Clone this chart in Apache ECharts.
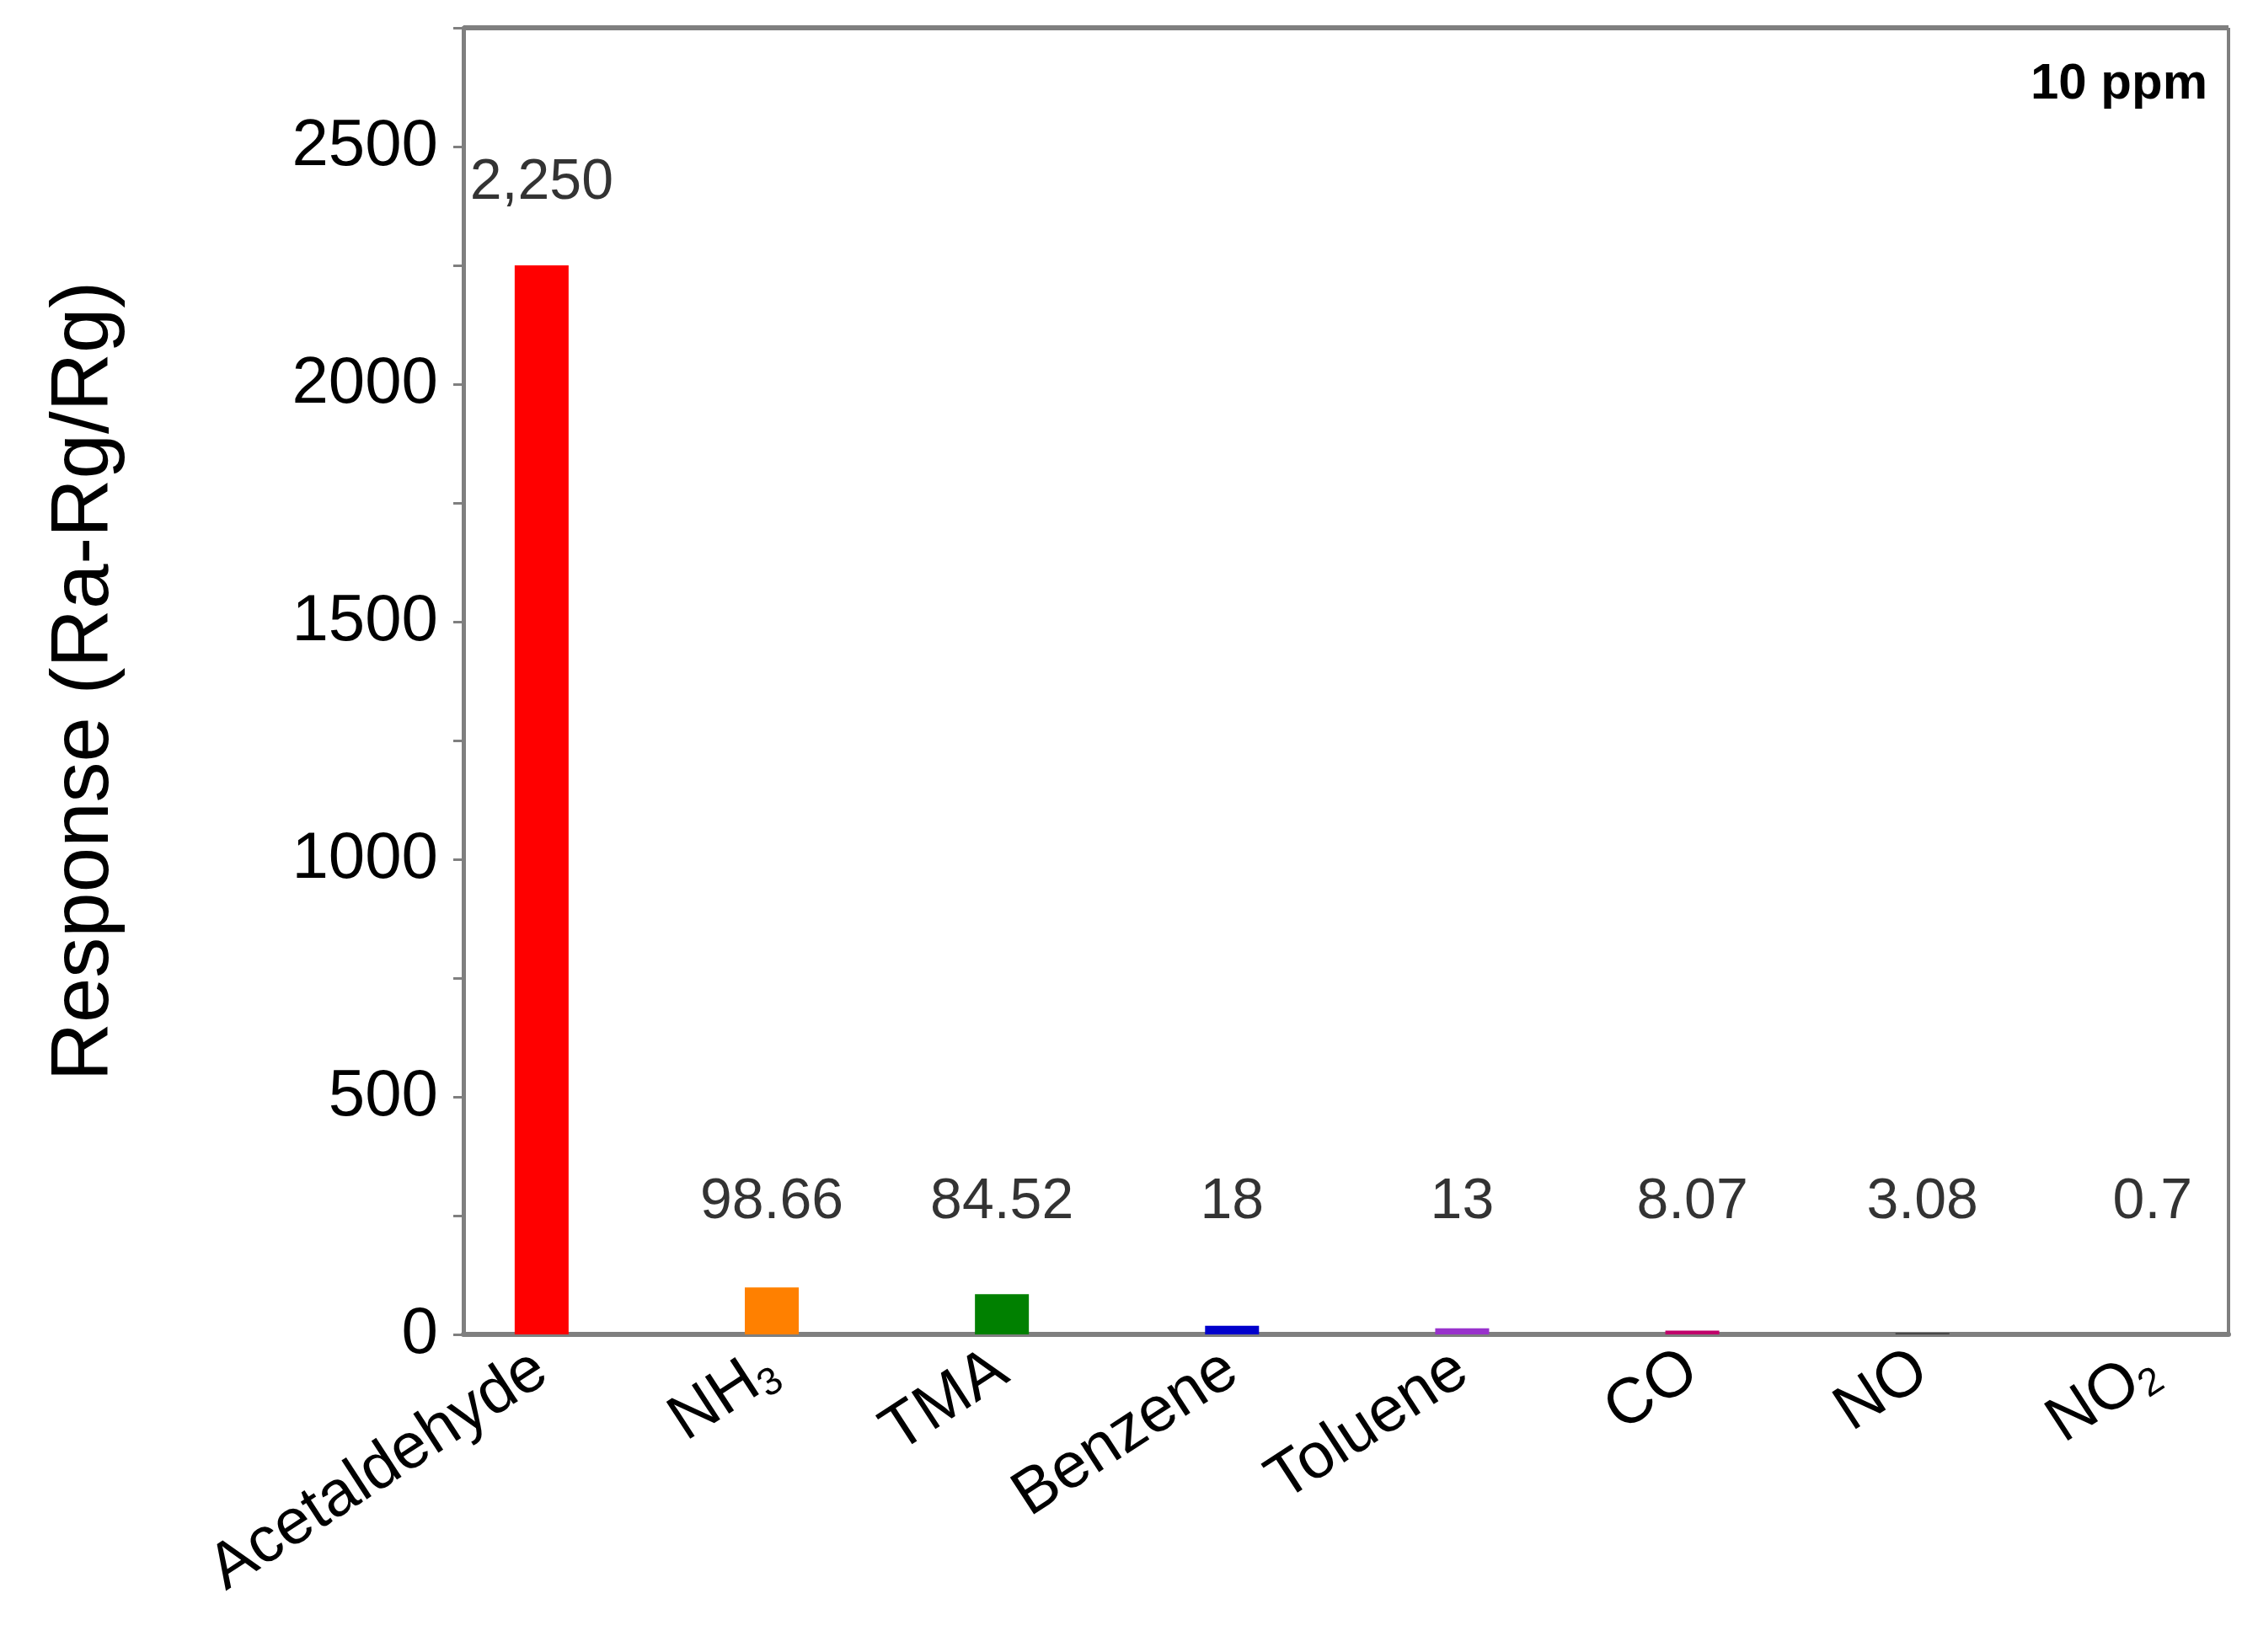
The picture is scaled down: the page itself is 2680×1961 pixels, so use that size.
<!DOCTYPE html>
<html>
<head>
<meta charset="utf-8">
<script src="https://cdn.jsdelivr.net/npm/echarts@6/dist/echarts.min.js"></script>
<style>html,body{margin:0;background:#fff}#chart{width:2680px;height:1961px}</style>
</head>
<body>
<div id="chart"></div>
<script>
// 数据
var gases = ["Acetaldehyde", "NH{s|3}", "TMA", "Benzene", "Toluene", "CO", "NO", "NO{s|2}"];
var responses = [2250, 98.66, 84.52, 18, 13, 8.07, 3.08, 0.7];
var valueTexts = ["2,250", "98.66", "84.52", "18", "13", "8.07", "3.08", "0.7"];
var barColors = ["#ff0000", "#ff8000", "#008000", "#0000cc", "#9932cc", "#c0006a", "#404040", "#808080"];
var labelLevel = [2424, 278, 278, 278, 278, 278, 278, 278];
var yTicks = [0, 500, 1000, 1500, 2000, 2500];

var barData = responses.map(function (v, i) {
  return { value: [i, v], itemStyle: { color: barColors[i] } };
});
var labelData = labelLevel.map(function (v, i) { return [i, v]; });

var chart = echarts.init(document.getElementById("chart"));
chart.setOption({
  animation: false,
  grid: { left: 550, right: 35, top: 33, bottom: 377 },
  xAxis: {
    type: "value", min: -0.34, max: 7.33,
    splitLine: { show: false },
    axisLine: { show: true, onZero: false, lineStyle: { color: "#7f7f7f", width: 6 } },
    axisTick: { show: false },
    axisLabel: {
      customValues: [0, 1, 2, 3, 4, 5, 6, 7],
      rotate: 33, margin: 36, fontSize: 76, color: "#000", fontFamily: "Liberation Sans",
      formatter: function (v) { return gases[Math.round(v)]; },
      rich: { s: { fontSize: 46, padding: [36, 0, 0, 0] } }
    }
  },
  yAxis: {
    type: "value", min: 0, max: 2750, interval: 250,
    name: "Response (Ra-Rg/Rg)", nameLocation: "middle", nameGap: 400,
    nameTextStyle: { fontSize: 96, color: "#000", fontFamily: "Liberation Sans" },
    splitLine: { show: false },
    axisLine: { show: true, onZero: false, lineStyle: { color: "#7f7f7f", width: 5 } },
    axisTick: { show: true, length: 12, lineStyle: { color: "#7f7f7f", width: 3 } },
    axisLabel: {
      fontSize: 78, color: "#000", margin: 30, fontFamily: "Liberation Sans",
      formatter: function (v) { return yTicks.indexOf(v) >= 0 ? String(v) : ""; }
    }
  },
  graphic: [
    { type: "line", shape: { x1: 550, y1: 33, x2: 2645, y2: 33 }, style: { stroke: "#7f7f7f", lineWidth: 6 } },
    { type: "line", shape: { x1: 2645, y1: 33, x2: 2645, y2: 1584 }, style: { stroke: "#7f7f7f", lineWidth: 4 } },
    { type: "text", right: 60, top: 70, style: { text: "10 ppm", fontSize: 60, fontWeight: "bold", fill: "#000", fontFamily: "Liberation Sans" } }
  ],
  series: [
    { type: "bar", barWidth: 64, data: barData },
    {
      type: "scatter", symbolSize: 0, data: labelData,
      label: {
        show: true, position: "inside", fontSize: 68, color: "#000", fontFamily: "Liberation Sans",
        formatter: function (p) { return valueTexts[p.dataIndex]; }
      }
    }
  ]
});
</script>
</body>
</html>
